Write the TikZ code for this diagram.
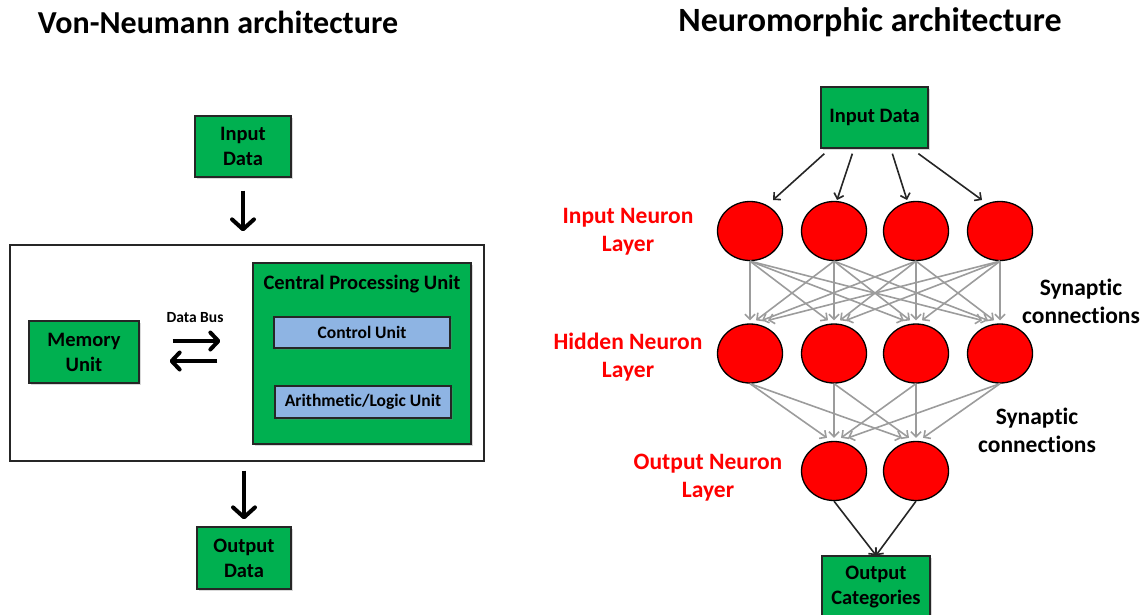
\documentclass[tikz,border=0pt]{standalone}
\usepackage{fontspec}
\setmainfont{Carlito}[Ligatures=NoCommon]
\usetikzlibrary{shapes.geometric,arrows.meta,calc,shadows}
\definecolor{boxgreen}{HTML}{00B050}
\definecolor{boxblue}{HTML}{8EB4E3}
\definecolor{synapse}{HTML}{9C9C9C}
\definecolor{neuronred}{HTML}{FF0000}
\tikzset{
  softshadow/.style={drop shadow={shadow xshift=1.5pt,shadow yshift=-1.5pt,opacity=0.3}},
  heading/.style={font=\bfseries\fontsize{32}{36}\selectfont},
  gbox/.style={draw=black!85,line width=1.3pt,fill=boxgreen,align=center,inner sep=0pt,
    font=\bfseries\fontsize{20.5}{25}\selectfont,softshadow},
  bbox/.style={draw=black!85,line width=1.3pt,fill=boxblue,align=center,inner sep=0pt,
    font=\bfseries\fontsize{17.5}{21}\selectfont,softshadow},
  neuron/.style={ellipse,draw=black,line width=1.3pt,fill=neuronred,
    minimum width=65pt,minimum height=59pt,inner sep=0pt},
  layerlabel/.style={text=neuronred,align=center,font=\bfseries\fontsize{23.5}{28}\selectfont},
  synlabel/.style={align=center,font=\bfseries\fontsize{23.5}{28}\selectfont},
  bigarrow/.style={line width=3.2pt,-{Straight Barb[round,length=10pt,width=22pt,line width=4pt]}},
  busarrow/.style={line width=3.2pt,-{Straight Barb[round,length=8pt,width=17pt,line width=4pt]}},
  feedarrow/.style={line width=1.6pt,black!85,-{Straight Barb[length=5pt,width=10pt]}},
  synarrow/.style={line width=1.6pt,synapse,-{Straight Barb[length=5pt,width=10pt]}},
}
\begin{document}
\begin{tikzpicture}[x=1pt,y=-1pt]
\useasboundingbox (0,0) rectangle (1147,614);

% ---------- titles ----------
\node[heading] (vntitle) at (218,22) {Von-Neumann architecture};
\node[heading,font=\bfseries\fontsize{34}{38}\selectfont] (nmtitle) at (870,22) {Neuromorphic architecture};

% ---------- Von-Neumann side ----------
\node[gbox,minimum width=96pt,minimum height=61pt] (vin) at (243,146.5) {Input\\Data};
\node[draw=black!85,line width=1.3pt,minimum width=474pt,minimum height=216pt] (outer) at (247,353) {};
\node[gbox,minimum width=110pt,minimum height=62pt] (mem) at (84,352) {Memory\\Unit};
\node[gbox,minimum width=218pt,minimum height=181pt] (cpu) at (362,353.5) {};
\node[font=\bfseries\fontsize{20.5}{25}\selectfont] (cputitle) at (362,284) {Central Processing Unit};
\node[bbox,minimum width=176pt,minimum height=31pt] (cu) at (362,332.5) {Control Unit};
\node[bbox,minimum width=176pt,minimum height=32pt] (alu) at (363,402) {Arithmetic/Logic Unit};
\node[font=\bfseries\fontsize{15.5}{18}\selectfont] (bus) at (195,318) {Data Bus};
\node[gbox,minimum width=94pt,minimum height=62pt] (vout) at (244,558) {Output\\Data};

\draw[bigarrow,shorten <=13pt,shorten >=13pt] (vin.south) -- (vin.south |- outer.north);
\draw[busarrow] ($(mem.east)+(33,-11)$) -- ($(cpu.west)+(-32,-12.5)$);
\draw[busarrow] ($(cpu.west)+(-35,7.5)$) -- ($(mem.east)+(30,9)$);
\draw[bigarrow,shorten <=9pt,shorten >=7pt] (vout.north |- outer.south) -- (vout.north);

% ---------- Neuromorphic side ----------
\node[gbox,minimum width=107pt,minimum height=61pt] (rin) at (874.5,117.5) {Input Data};
\node[gbox,minimum width=108pt,minimum height=62pt] (cat) at (876,587) {Output\\Categories};

\foreach \i/\x in {1/750,2/834,3/916,4/1000}{
  \node[neuron] (in\i) at (\x,231) {};
  \node[neuron] (hid\i) at (\x,353.5) {};
}
\node[neuron] (out1) at (834,471) {};
\node[neuron] (out2) at (916,471) {};

% data fed into the input layer
\draw[feedarrow] ($(rin.south west)+(4,5)$) -- ($(in1)+(23,-31)$);
\draw[feedarrow] ($(rin.south west)+(32,5)$) -- ($(in2)+(3,-31)$);
\draw[feedarrow] ($(rin.south west)+(72,5)$) -- ($(in3)+(-9,-31)$);
\draw[feedarrow] ($(rin.south west)+(98,5)$) -- ($(in4)+(-18,-31)$);

% input layer -> hidden layer, fully connected
\foreach \i in {1,2,3,4}{
  \foreach \j in {1,2,3,4}{
    \pgfmathsetmacro{\off}{6*(\i-\j)}
    \draw[synarrow] (in\i.south) -- ($(hid\j.north)+(\off,-3)$);
  }
}
% hidden layer -> output layer
\foreach \i in {1,2,3,4}{
  \pgfmathsetmacro{\offa}{7*(\i-2)}
  \pgfmathsetmacro{\offb}{7*(\i-3)}
  \draw[synarrow] (hid\i.south) -- ($(out1.north)+(\offa,-3)$);
  \draw[synarrow] (hid\i.south) -- ($(out2.north)+(\offb,-3)$);
}
% output layer -> categories
\draw[feedarrow] (out1.south) -- (cat.north);
\draw[feedarrow] (out2.south) -- (cat.north);

% labels
\node[layerlabel] (linput) at (628,232) {Input Neuron\\Layer};
\node[layerlabel] (lhidden) at (628,357) {Hidden Neuron\\Layer};
\node[layerlabel] (loutput) at (708,478) {Output Neuron\\Layer};
\node[synlabel] (syn1) at (1081,301) {Synaptic\\connections};
\node[synlabel] (syn2) at (1037,430) {Synaptic\\connections};
\end{tikzpicture}
\end{document}
